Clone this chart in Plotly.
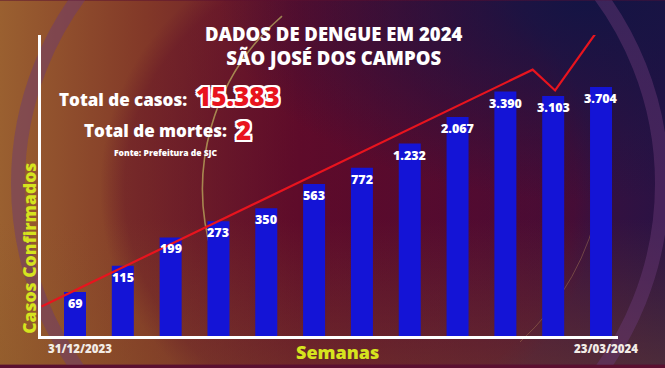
import base64
import math
import plotly.graph_objects as go

# ---- data ----
semanas = list(range(12))
casos = [69, 115, 199, 273, 350, 563, 772, 1232, 2067, 3390, 3103, 3704]
tick_pos = [0, 11]
tick_labels = ["31/12/2023", "23/03/2024"]
trend_x = [-0.70, 9.57, 10.04, 10.91]
trend_y = [52, 5180, 3460, 10800]
total_casos = "15.383"
total_mortes = "2"
fonte = "Fonte: Prefeitura de SJC"
titulo = ["DADOS DE DENGUE EM 2024", "SÃO JOSÉ DOS CAMPOS"]

# ---- layout geometry ----
W, H = 665, 368
L, R, T, B = 41, 47, 35, 29
pw, ph = W - L - R, H - T - B


def px(x):
    return (x - L) / pw


def py(y):
    return (H - B - y) / ph


FONT = "Open Sans"
YEL = "#d6e41e"

svg = f"""<svg xmlns='http://www.w3.org/2000/svg' width='{W}' height='{H}' viewBox='0 0 {W} {H}'>
<defs>
<linearGradient id='g' x1='0' y1='0' x2='1' y2='0'>
<stop offset='0' stop-color='#9a6030'/>
<stop offset='0.22' stop-color='#823828'/>
<stop offset='0.45' stop-color='#62102c'/>
<stop offset='0.72' stop-color='#4a0e38'/>
<stop offset='1' stop-color='#2a1244'/>
</linearGradient>
<radialGradient id='r' cx='0.88' cy='0.0' r='0.55'>
<stop offset='0' stop-color='#121444' stop-opacity='0.95'/>
<stop offset='1' stop-color='#121444' stop-opacity='0'/>
</radialGradient>
<radialGradient id='c' cx='0.5' cy='0.5' r='0.5'>
<stop offset='0' stop-color='#5a0628' stop-opacity='0.55'/>
<stop offset='0.9' stop-color='#5a0628' stop-opacity='0.35'/>
<stop offset='1' stop-color='#5a0628' stop-opacity='0'/>
</radialGradient>
<linearGradient id='bl' x1='0' y1='0' x2='0' y2='1'>
<stop offset='0.6' stop-color='#8a5a28' stop-opacity='0'/>
<stop offset='1' stop-color='#8a5a28' stop-opacity='0.35'/>
</linearGradient>
</defs>
<rect width='{W}' height='{H}' fill='url(#g)'/>
<circle cx='350' cy='190' r='250' fill='url(#c)'/>
<rect width='{W}' height='{H}' fill='url(#r)'/>
<rect width='{W}' height='{H}' fill='url(#bl)'/>
<circle cx='340' cy='185' r='322' fill='none' stroke='#6a3a78' stroke-opacity='0.45' stroke-width='14'/>
<path d='M 282 16 A 231 231 0 0 0 214 262' fill='none' stroke='#d8e070' stroke-opacity='0.55' stroke-width='1.6'/>
<path d='M 600 200 A 260 260 0 0 1 520 345' fill='none' stroke='#c8a060' stroke-opacity='0.35' stroke-width='1'/>
</svg>"""
bg_src = "data:image/svg+xml;base64," + base64.b64encode(svg.encode()).decode()

fig = go.Figure()
fig.add_trace(go.Bar(
    x=semanas, y=casos, width=0.46,
    marker=dict(color="#1414d6", line=dict(width=0)),
    hoverinfo="skip", showlegend=False,
))
fig.add_trace(go.Scatter(
    x=trend_x, y=trend_y, mode="lines",
    line=dict(color="#e8141e", width=2.2),
    cliponaxis=False, hoverinfo="skip", showlegend=False,
))

shadow = ", ".join(f"{a}px {b}px 0 #ffffff" for a, b in
                   [(2, 0), (-2, 0), (0, 2), (0, -2), (2, 2), (-2, -2), (2, -2), (-2, 2)])

ann = []

# bar value labels, placed at each bar top through the axes
for xi, v in zip(semanas, casos):
    ann.append(dict(text=f"{v:,}".replace(",", "."), x=xi, y=math.log10(v),
                    xref="x", yref="y", xanchor="center", yanchor="top", yshift=-1,
                    showarrow=False,
                    font=dict(family=FONT, size=12.5, color="white", weight=800)))


def add(text, x, y, size, color="white", xanchor="center", weight=800, **kw):
    ann.append(dict(text=text, x=px(x), y=py(y), xref="paper", yref="paper",
                    xanchor=xanchor, yanchor="middle", showarrow=False,
                    font=dict(family=FONT, size=size, color=color, weight=weight, **kw)))


add("<br>".join(titulo), 334, 46, 18.5)
add("Total de casos:", 189, 100, 17, xanchor="right")
add(total_casos, 194, 97, 26, color="#e8141e", xanchor="left", shadow=shadow)
add("Total de mortes:", 229, 131, 17, xanchor="right")
add(total_mortes, 234, 131, 26, color="#e8141e", xanchor="left", shadow=shadow)
add(fonte, 166, 154, 8.5)
add("Semanas", 337, 355, 18, color=YEL)
ann.append(dict(text="Casos Confirmados", x=px(29), y=py(251), xref="paper", yref="paper",
                xanchor="center", yanchor="middle", showarrow=False, textangle=-90,
                font=dict(family=FONT, size=17.5, color=YEL, weight=800)))

fig.update_layout(
    width=W, height=H, autosize=False,
    margin=dict(l=L, r=R, t=T, b=B, pad=0),
    paper_bgcolor="#5a1030", plot_bgcolor="rgba(0,0,0,0)",
    images=[dict(source=bg_src, xref="paper", yref="paper",
                 x=-L / pw, y=1 + T / ph, sizex=W / pw, sizey=H / ph,
                 xanchor="left", yanchor="top", sizing="stretch", layer="below")],
    xaxis=dict(range=[-0.711, 11.355], tickvals=tick_pos, ticktext=tick_labels,
               showline=True, linecolor="white", linewidth=3, showgrid=False,
               zeroline=False, ticks="", ticklabelshift=5,
               tickfont=dict(family=FONT, size=11.5, color="#f2ece6", weight=800)),
    yaxis=dict(type="log", range=[1.467, 4.007], showline=True, linecolor="white",
               linewidth=3, showgrid=False, zeroline=False, showticklabels=False, ticks=""),
    annotations=ann,
)

fig.write_html(
    "out.html",
    config={"displayModeBar": False},
    post_script="document.body.style.margin='0';document.body.style.padding='0';"
                "document.documentElement.style.overflow='hidden';",
)
